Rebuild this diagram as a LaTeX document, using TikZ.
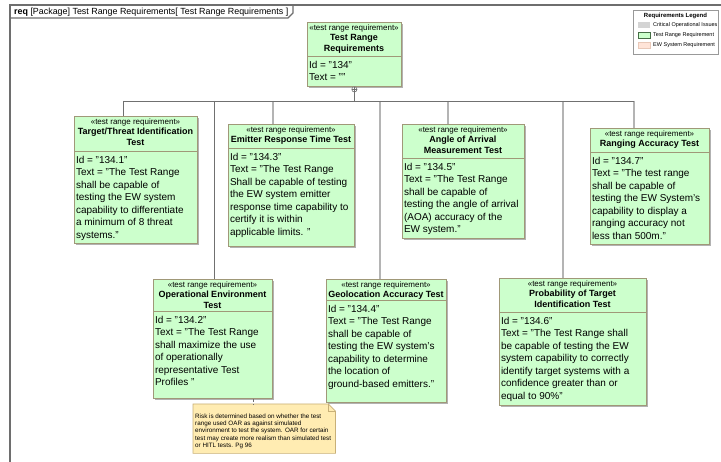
\documentclass[tikz,border=0pt]{standalone}
\usepackage{fontspec}
\setmainfont{Liberation Sans}
\usetikzlibrary{shadows}

\definecolor{reqfill}{RGB}{204,255,204}
\definecolor{reqedge}{RGB}{160,152,120}
\definecolor{notefill}{RGB}{255,236,178}
\definecolor{noteedge}{RGB}{200,176,120}
\definecolor{framegray}{RGB}{110,110,110}
\definecolor{linkdark}{RGB}{112,112,112}
\definecolor{linklight}{RGB}{180,180,180}
\definecolor{legcoi}{RGB}{212,212,212}
\definecolor{legew}{RGB}{255,228,216}
\definecolor{legewedge}{RGB}{232,200,184}
\definecolor{legtredge}{RGB}{70,110,70}

\tikzset{
  reqbox/.style={draw=reqedge, fill=reqfill, line width=0.8pt, inner sep=0pt,
    drop shadow={shadow xshift=1.3pt, shadow yshift=-1.3pt, fill=black!30, opacity=1}},
  reqsep/.style={draw=reqedge, line width=0.8pt},
  reqhead/.style={inner sep=0pt, align=center, font=\fontsize{9}{10.5}\selectfont\bfseries},
  reqbody/.style={inner sep=0pt, align=left, font=\fontsize{10}{12.5}\selectfont},
  busline/.style={draw=linkdark, line width=0.7pt},
  linkA/.style={draw=linkdark, line width=0.7pt},
  linkB/.style={draw=linklight, line width=1.1pt},
  noteline/.style={draw=linkdark, line width=0.7pt, dashed, dash pattern=on 3pt off 2pt},
  notebox/.style={draw=noteedge, fill=notefill, line width=0.7pt},
  frameline/.style={draw=framegray, line width=1.2pt},
  legitem/.style={inner sep=0pt, anchor=west, font=\fontsize{5.5}{6.5}\selectfont},
}

\newcommand\stereo{{\fontsize{8}{10}\selectfont\mdseries «test range requirement»}}

% #1 name, #2 left, #3 top, #4 right, #5 bottom, #6 separator, #7 title, #8 attributes
\newcommand\ReqBox[8]{%
  \node[reqbox, anchor=north west, minimum width={(#4-#2)*1pt},
        minimum height={(#5-#3)*1pt}] (#1) at (#2,#3) {};
  \draw[reqsep] (#2,#6) -- (#4,#6);
  \node[reqhead, anchor=north] (#1-head) at ({(#2+#4)/2},#3+2.5) {\stereo\\#7};
  \node[reqbody, anchor=north west] (#1-body) at (#2+1.8,#6+4.8) {#8};
}

\begin{document}
\begin{tikzpicture}[x=1pt,y=-1pt]
\useasboundingbox (0,0) rectangle (721,462);
\fill[white] (0,0) rectangle (721,462);

% diagram frame and its name tab
\draw[frameline] (10,462) -- (10,5) -- (721,5);
\draw[frameline] (10,18) -- (288,18) -- (293,13) -- (293,5);
\node[inner sep=0pt, anchor=west, font=\fontsize{8.9}{10.5}\selectfont] (tab) at (14,11.8)
  {\textbf{req} [Package] Test Range Requirements[ Test Range Requirements ]};

% legend
\node[draw=black!40, fill=white, line width=0.6pt, anchor=north west, minimum width=85pt,
      minimum height=44pt, inner sep=0pt,
      drop shadow={shadow xshift=1pt, shadow yshift=-1pt, fill=black!20, opacity=1}] (legend) at (633,10) {};
\node[inner sep=0pt, font=\fontsize{6}{7}\selectfont\bfseries] (legtitle) at (675.5,15.5) {Requirements Legend};
\fill[legcoi] (638,22.5) rectangle (650,28.5);
\draw[fill=reqfill, draw=legtredge, line width=0.6pt] (638,32) rectangle (650,38);
\draw[fill=legew, draw=legewedge, line width=0.6pt] (638,42) rectangle (650,48);
\node[legitem] (leg1) at (653,25.5) {Critical Operational Issues};
\node[legitem] (leg2) at (653,35) {Test Range Requirement};
\node[legitem] (leg3) at (653,45) {EW System Requirement};

% requirement boxes
\ReqBox{root}{307}{22}{401}{86}{56}{Test Range\\Requirements}
  {Id = "134"\\Text = ""}
\ReqBox{tt}{74}{116}{197}{243}{151}{Target/Threat Identification\\Test}
  {Id = "134.1"\\Text = "The Test Range\\shall be capable of\\testing the EW system\\capability to differentiate\\a minimum of 8 threat\\systems."}
\ReqBox{ert}{228}{124}{354}{246}{148}{Emitter Response Time Test}
  {Id = "134.3"\\Text = "The Test Range\\Shall be capable of testing\\the EW system emitter\\response time capability to\\certify it is within\\applicable limits. "}
\ReqBox{aoa}{402}{124}{524}{238}{158}{Angle of Arrival\\Measurement Test}
  {Id = "134.5"\\Text = "The Test Range\\shall be capable of\\testing the angle of arrival\\(AOA) accuracy of the\\EW system."}
\ReqBox{rng}{590}{128}{709}{244}{152}{Ranging Accuracy Test}
  {Id = "134.7"\\Text = "The test range\\shall be capable of\\testing the EW System's\\capability to display a\\ranging accuracy not\\less than 500m."}
\ReqBox{oet}{153}{279}{272}{398}{311}{Operational Environment\\Test}
  {Id = "134.2"\\Text = "The Test Range\\shall maximize the use\\of operationally\\representative Test\\Profiles "}
\ReqBox{geo}{326}{279}{446}{402}{300}{Geolocation Accuracy Test}
  {Id = "134.4"\\Text = "The Test Range\\shall be capable of\\testing the EW system's\\capability to determine\\the location of\\ground-based emitters."}
\ReqBox{pti}{499}{278}{646}{405}{312}{Probability of Target\\Identification Test}
  {Id = "134.6"\\Text = "The Test Range shall\\be capable of testing the EW\\system capability to correctly\\identify target systems with a\\confidence greater than or\\equal to 90\%"}

% containment tree
\coordinate (b1) at (123,101);
\coordinate (b2) at (214,101);
\coordinate (b3) at (273,101);
\coordinate (b4) at (380,101);
\coordinate (b5) at (448,101);
\coordinate (b6) at (563,101);
\coordinate (b7) at (634,101);
\coordinate (hub) at (root.south |- b1);
\draw[linkB] (b3) -- (b3 |- ert.north);
\draw[linkB] (b4) -- (b4 |- geo.north);
\draw[linkB] (b5) -- (b5 |- aoa.north);
\draw[linkB] (b6) -- (b6 |- pti.north);
\draw[linkB] (b7) -- (b7 |- rng.north);
\draw[linkA] (b1) -- (b1 |- tt.north);
\draw[linkA] (b2) -- (b2 |- oet.north);
\draw[busline] (b1) -- (b7);
\path (root.south) ++(0,2.6) coordinate (plus);
\draw[busline] (plus) -- (hub);
\draw[linkdark, line width=0.6pt, fill=white] (plus) circle[radius=2.6pt];
\draw[linkdark, line width=0.5pt] ([xshift=-2.6pt]plus) -- ([xshift=2.6pt]plus)
  ([yshift=-2.6pt]plus) -- ([yshift=2.6pt]plus);

% comment note
\node[inner sep=0pt, anchor=north west, minimum width=142pt, minimum height=49pt] (note) at (193,404) {};
\draw[notebox] (note.north west) -- ([xshift=-7pt]note.north east) -- ([yshift=-7pt]note.north east)
  -- (note.south east) -- (note.south west) -- cycle;
\draw[noteedge, line width=0.6pt] ([xshift=-7pt]note.north east) -- ([xshift=-7pt,yshift=-7pt]note.north east)
  -- ([yshift=-7pt]note.north east);
\node[inner sep=0pt, anchor=north west, align=left, font=\fontsize{6.3}{7.3}\selectfont] (notetext) at (195,413.5)
  {Risk is determined based on whether the test\\range used OAR as against simulated\\environment to test the system. OAR for certain\\test may create more realism than simulated test\\or HITL tests. Pg 96};
\coordinate (nl) at (253,0);
\draw[noteline] (oet.south -| nl) -- (note.north -| nl);
\end{tikzpicture}
\end{document}
